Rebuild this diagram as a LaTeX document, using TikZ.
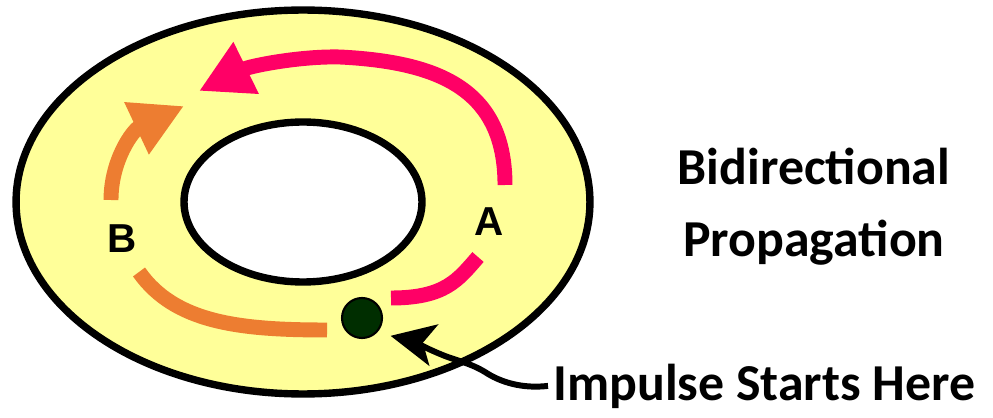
\documentclass[tikz,border=0pt]{standalone}
\usepackage{fontspec}
\setmainfont{Carlito}
\newfontfamily\letterfont{Liberation Sans}
\usepackage{tikz}
\usetikzlibrary{arrows.meta}

\definecolor{ringyellow}{HTML}{FFFF99}
\definecolor{pathpink}{HTML}{FF0066}
\definecolor{pathorange}{HTML}{ED7D31}
\definecolor{dotgreen}{HTML}{002E00}

\begin{document}
\begin{tikzpicture}[
    x = 0.02cm, y = -0.02cm,
    ring/.style      = {draw, line width=4.2pt},
    wave/.style      = {line width=8.5pt},
    pinkarr/.style   = {wave, draw=pathpink,
                        -{Triangle[length=1.05cm, width=1.08cm]}},
    orangearr/.style = {wave, draw=pathorange,
                        -{Triangle[length=1.05cm, width=1.08cm]}},
    letter/.style    = {font=\letterfont\bfseries\fontsize{23}{27}\selectfont,
                        inner sep=0pt},
    title/.style     = {font=\bfseries\fontsize{29.5}{40.8}\selectfont,
                        align=center, inner sep=0pt},
    pointer/.style   = {line width=3.4pt,
                        -{Stealth[length=0.88cm, width=0.84cm, inset=0.22cm]}},
  ]
  \useasboundingbox (0,0) rectangle (993,418);

  % the ring
  \draw[ring, fill=ringyellow] (303,202) ellipse [x radius=5.74cm, y radius=3.84cm];
  \draw[ring, fill=white] (303,202) ellipse [x radius=2.38cm, y radius=1.6cm];

  % path A (clockwise)
  \draw[pathpink, wave] (391,298) .. controls (445,298) and (458,280) .. (478,257);
  \draw[pinkarr] (505,185) .. controls (505,90) and (440,62) .. (340,57)
                 .. controls (300,56) and (250,66) .. (199,91);

  % path B (counter-clockwise)
  \draw[pathorange, wave] (327,330) .. controls (240,330) and (175,323) .. (139,272);
  \draw[orangearr] (111,200) .. controls (111,160) and (133,130) .. (184,106);

  \node[letter] (A) at (489,222) {A};
  \node[letter] (B) at (122,239) {B};

  \node[circle, draw, line width=1.2pt, fill=dotgreen, minimum size=0.8cm,
        inner sep=0pt] (dot) at (362,318) {};

  \node[title] (bidir) at (814,207) {Bidirectional\\Propagation};
  \node[title, anchor=base west, inner xsep=0.1cm] (impulse) at (548,400)
       {Impulse Starts Here};

  \draw[pointer, shorten >=0.28cm] (impulse.west)
       .. controls (522,389) and (500,382) .. (485,372)
       .. controls (470,363) and (458,361) .. (445,356)
       .. controls (425,348) and (410,340) .. (dot.south east);
\end{tikzpicture}
\end{document}
